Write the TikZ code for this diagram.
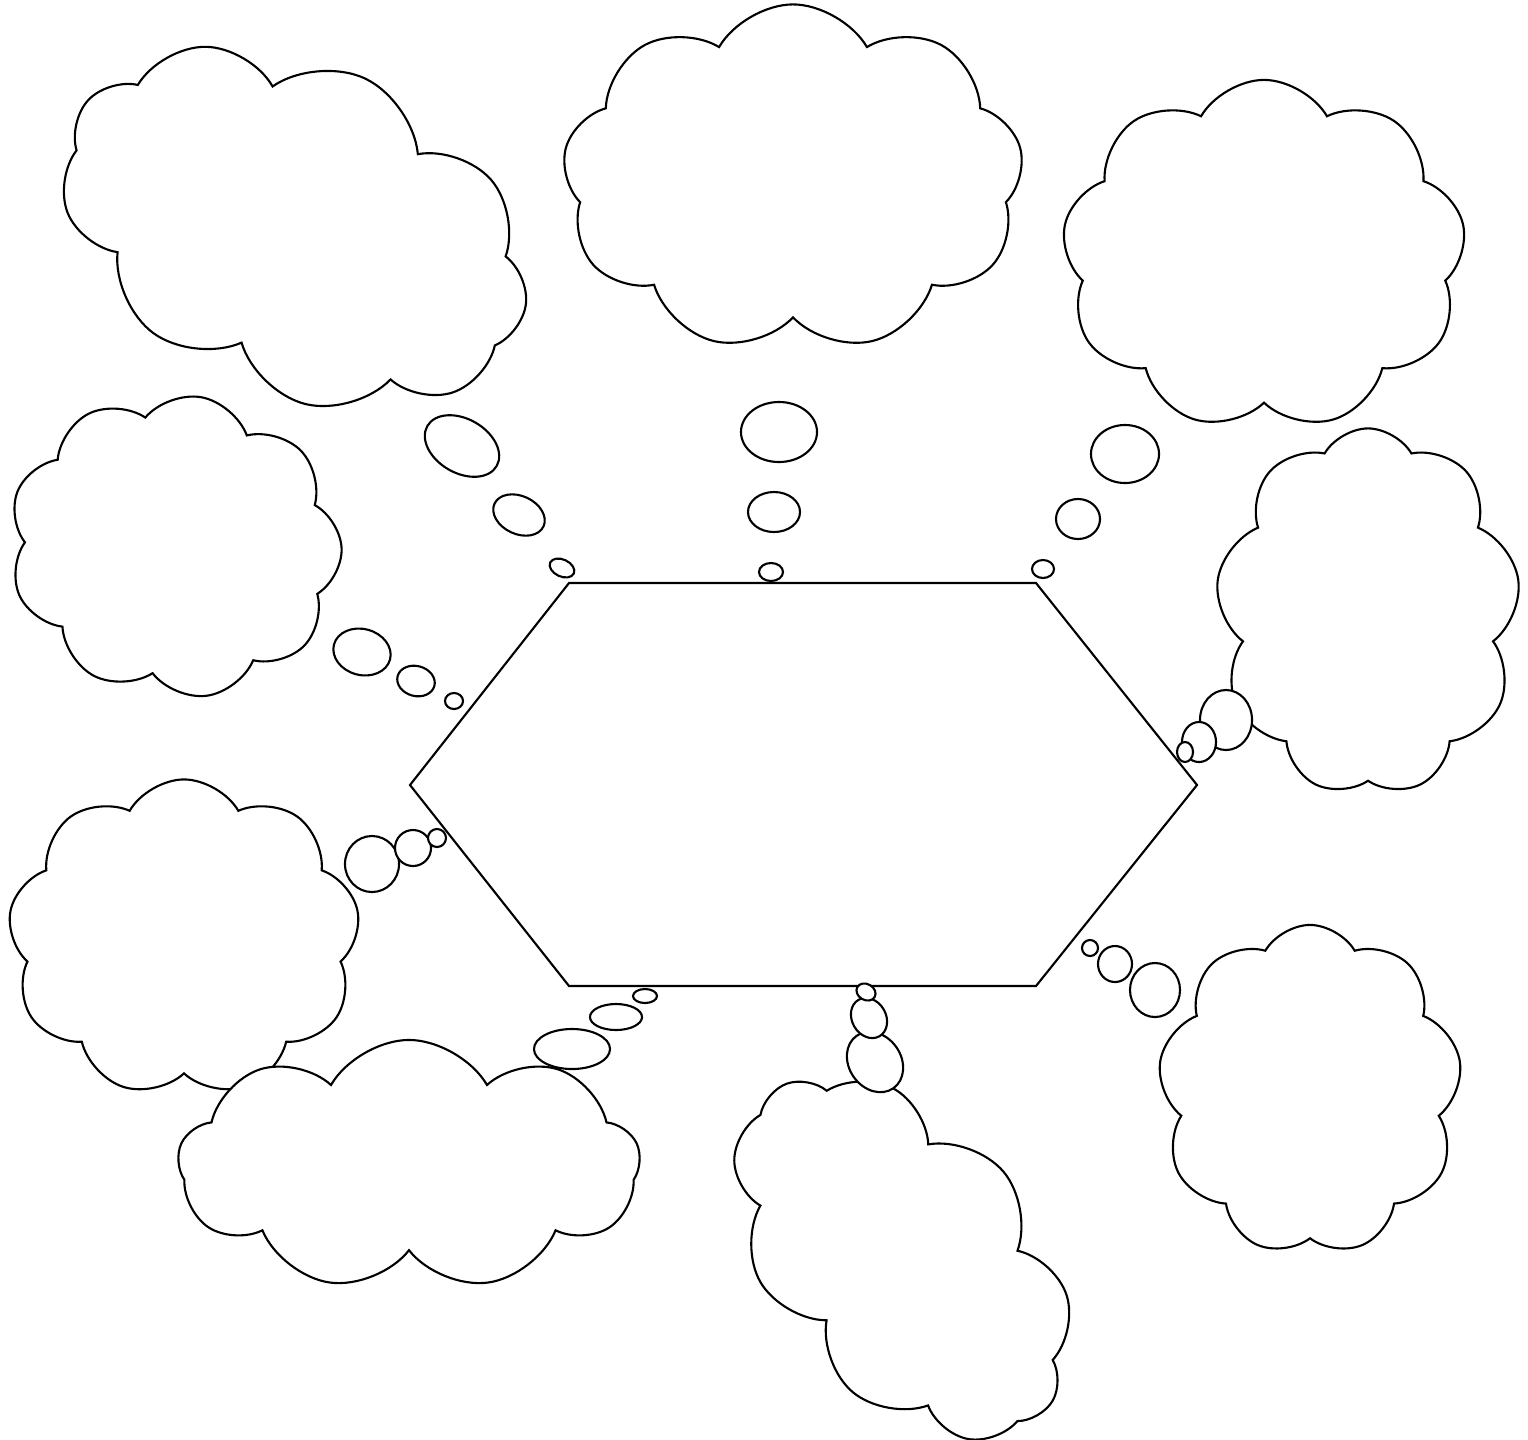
\documentclass[tikz,border=0pt]{standalone}
\usetikzlibrary{shapes.symbols,shapes.geometric}

\begin{document}
\begin{tikzpicture}[x=0.01cm, y=-0.01cm, line width=0.6pt,
    thought/.style={cloud, draw, fill=white, cloud puffs=9, cloud puff arc=120,
                    cloud ignores aspect, inner sep=0pt},
    bubble/.style={ellipse, draw, fill=white, inner sep=0pt}]
  \useasboundingbox (0,0) rectangle (1528,1439);

  \draw (569,583) coordinate (h-n1) -- (1036,583) coordinate (h-n2) --
        (1197,785) coordinate (h-e) -- (1036,986) coordinate (h-s2) --
        (569,986) coordinate (h-s1) -- (410,785) coordinate (h-w) -- cycle;

  \node[thought, minimum width=4.9cm, minimum height=3.3cm, rotate=-25] (c-nw) at (295,228) {};
  \node[thought, minimum width=4.61cm, minimum height=3.47cm] (c-n) at (793,178) {};
  \node[thought, minimum width=4.04cm, minimum height=3.5cm] (c-ne) at (1264,255) {};
  \node[thought, minimum width=3.05cm, minimum height=3.67cm] (c-e) at (1368,612) {};
  \node[thought, minimum width=3.34cm, minimum height=3.02cm, rotate=-10] (c-w) at (175,546) {};
  \node[thought, minimum width=3.52cm, minimum height=3.17cm] (c-sw) at (184,938) {};
  \node[thought, minimum width=4.62cm, minimum height=2.5cm] (c-ssw) at (409,1165) {};
  \node[thought, minimum width=4.2cm, minimum height=2.65cm, rotate=-50] (c-s) at (902,1257) {};
  \node[thought, minimum width=3.04cm, minimum height=3.3cm] (c-se) at (1310,1090) {};

  \node[bubble, minimum width=0.80cm, minimum height=0.54cm, rotate=-30] (b-nw1) at (462,446) {};
  \node[bubble, minimum width=0.54cm, minimum height=0.38cm, rotate=-25] (b-nw2) at (519,515) {};
  \node[bubble, minimum width=0.26cm, minimum height=0.17cm, rotate=-25] (b-nw3) at (562,568) {};

  \node[bubble, minimum width=0.76cm, minimum height=0.60cm] (b-n1) at (779,432) {};
  \node[bubble, minimum width=0.52cm, minimum height=0.40cm] (b-n2) at (774,512) {};
  \node[bubble, minimum width=0.24cm, minimum height=0.18cm] (b-n3) at (771,572) {};

  \node[bubble, minimum width=0.68cm, minimum height=0.58cm] (b-ne1) at (1125,454) {};
  \node[bubble, minimum width=0.44cm, minimum height=0.40cm] (b-ne2) at (1078,519) {};
  \node[bubble, minimum width=0.22cm, minimum height=0.18cm] (b-ne3) at (1043,569) {};

  \node[bubble, minimum width=0.52cm, minimum height=0.60cm] (b-e1) at (1226,720) {};
  \node[bubble, minimum width=0.34cm, minimum height=0.40cm] (b-e2) at (1199,742) {};
  \node[bubble, minimum width=0.16cm, minimum height=0.20cm] (b-e3) at (1185,752) {};

  \node[bubble, minimum width=0.58cm, minimum height=0.46cm, rotate=-15] (b-w1) at (362,652) {};
  \node[bubble, minimum width=0.38cm, minimum height=0.30cm, rotate=-15] (b-w2) at (416,681) {};
  \node[bubble, minimum width=0.18cm, minimum height=0.16cm] (b-w3) at (454,701) {};

  \node[bubble, minimum width=0.54cm, minimum height=0.56cm] (b-sw1) at (372,864) {};
  \node[bubble, minimum width=0.36cm, minimum height=0.36cm] (b-sw2) at (413,848) {};
  \node[bubble, minimum width=0.18cm, minimum height=0.18cm] (b-sw3) at (437,838) {};

  \node[bubble, minimum width=0.76cm, minimum height=0.40cm] (b-ssw1) at (572,1049) {};
  \node[bubble, minimum width=0.52cm, minimum height=0.26cm] (b-ssw2) at (616,1017) {};
  \node[bubble, minimum width=0.24cm, minimum height=0.14cm] (b-ssw3) at (645,996) {};

  \node[bubble, minimum width=0.64cm, minimum height=0.52cm, rotate=-55] (b-s1) at (875,1062) {};
  \node[bubble, minimum width=0.42cm, minimum height=0.34cm, rotate=-60] (b-s2) at (869,1018) {};
  \node[bubble, minimum width=0.20cm, minimum height=0.16cm, rotate=-30] (b-s3) at (866,992) {};

  \node[bubble, minimum width=0.50cm, minimum height=0.54cm] (b-se1) at (1155,990) {};
  \node[bubble, minimum width=0.34cm, minimum height=0.36cm] (b-se2) at (1115,964) {};
  \node[bubble, minimum width=0.16cm, minimum height=0.16cm] (b-se3) at (1090,948) {};
\end{tikzpicture}
\end{document}
